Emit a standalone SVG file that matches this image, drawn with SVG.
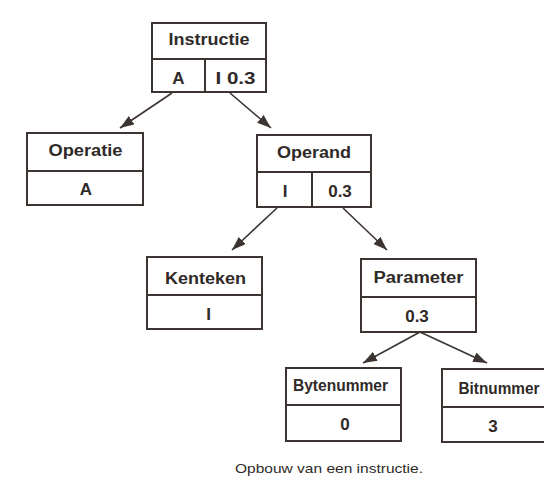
<svg xmlns="http://www.w3.org/2000/svg" width="544" height="483" viewBox="0 0 544 483">
  <defs>
    <style>
      .box { fill: #ffffff; stroke: #3b3431; stroke-width: 2; }
      .div { stroke: #3b3431; stroke-width: 2; fill: none; }
      .lbl { font-family: "Liberation Sans", Arial, sans-serif; font-weight: bold; font-size: 16px; fill: #2f2a28; text-anchor: middle; }
      .val { font-size: 17px; }
      .cap { font-family: "Liberation Sans", Arial, sans-serif; font-size: 13.5px; fill: #2f2a28; }
      .edge { stroke: #3b3431; stroke-width: 1.6; fill: none; marker-end: url(#head); }
    </style>
    <marker id="head" viewBox="0 0 14 10" refX="14" refY="5" markerWidth="14" markerHeight="10" markerUnits="userSpaceOnUse" orient="auto">
      <path d="M0,0 L14,5 L0,10 z" fill="#3b3431"/>
    </marker>
  </defs>
  <rect width="544" height="483" fill="#ffffff"/>

  <!-- connectors -->
  <g id="connectors">
    <line class="edge" x1="172" y1="93" x2="120" y2="128"/>
    <line class="edge" x1="230" y1="93" x2="271" y2="128"/>
    <line class="edge" x1="277" y1="208" x2="232" y2="250"/>
    <line class="edge" x1="343" y1="208" x2="387" y2="250"/>
    <line class="edge" x1="420" y1="332" x2="363" y2="363"/>
    <line class="edge" x1="420" y1="332" x2="487" y2="363"/>
  </g>

  <!-- Instructie -->
  <g id="instructie">
    <rect class="box" x="152" y="23" width="114" height="69"/>
    <line class="div" x1="152" y1="59" x2="266" y2="59"/>
    <line class="div" x1="205" y1="59" x2="205" y2="92"/>
    <text class="lbl" x="209" y="45" textLength="81" lengthAdjust="spacingAndGlyphs">Instructie</text>
    <text class="lbl val" x="178.5" y="84">A</text>
    <text class="lbl val" x="235.5" y="84" textLength="40" lengthAdjust="spacingAndGlyphs">I 0.3</text>
  </g>

  <!-- Operatie -->
  <g id="operatie">
    <rect class="box" x="27" y="133" width="116" height="72"/>
    <line class="div" x1="27" y1="171" x2="143" y2="171"/>
    <text class="lbl" x="85.5" y="156" textLength="74" lengthAdjust="spacingAndGlyphs">Operatie</text>
    <text class="lbl val" x="86" y="195">A</text>
  </g>

  <!-- Operand -->
  <g id="operand">
    <rect class="box" x="257" y="135" width="114" height="72"/>
    <line class="div" x1="257" y1="172" x2="371" y2="172"/>
    <line class="div" x1="312" y1="172" x2="312" y2="207"/>
    <text class="lbl" x="314" y="157.5" textLength="74" lengthAdjust="spacingAndGlyphs">Operand</text>
    <text class="lbl val" x="285" y="197">I</text>
    <text class="lbl val" x="340" y="197">0.3</text>
  </g>

  <!-- Kenteken -->
  <g id="kenteken">
    <rect class="box" x="147" y="257" width="115" height="72"/>
    <line class="div" x1="147" y1="295" x2="262" y2="295"/>
    <text class="lbl" x="205.5" y="284" textLength="81" lengthAdjust="spacingAndGlyphs">Kenteken</text>
    <text class="lbl val" x="208.5" y="320">I</text>
  </g>

  <!-- Parameter -->
  <g id="parameter">
    <rect class="box" x="361" y="259" width="115" height="73"/>
    <line class="div" x1="361" y1="297" x2="476" y2="297"/>
    <text class="lbl" x="418.5" y="283" textLength="90" lengthAdjust="spacingAndGlyphs">Parameter</text>
    <text class="lbl val" x="417" y="322">0.3</text>
  </g>

  <!-- Bytenummer -->
  <g id="bytenummer">
    <rect class="box" x="286" y="368" width="115" height="73"/>
    <line class="div" x1="286" y1="405" x2="401" y2="405"/>
    <text class="lbl" x="340.5" y="391" textLength="95" lengthAdjust="spacingAndGlyphs">Bytenummer</text>
    <text class="lbl val" x="345" y="430">0</text>
  </g>

  <!-- Bitnummer -->
  <g id="bitnummer">
    <rect class="box" x="442" y="369" width="106" height="73"/>
    <line class="div" x1="442" y1="407" x2="548" y2="407"/>
    <text class="lbl" x="499" y="393.5" textLength="81" lengthAdjust="spacingAndGlyphs">Bitnummer</text>
    <text class="lbl val" x="493" y="432">3</text>
  </g>

  <text class="cap" x="235" y="473" textLength="188" lengthAdjust="spacingAndGlyphs">Opbouw van een instructie.</text>
</svg>
